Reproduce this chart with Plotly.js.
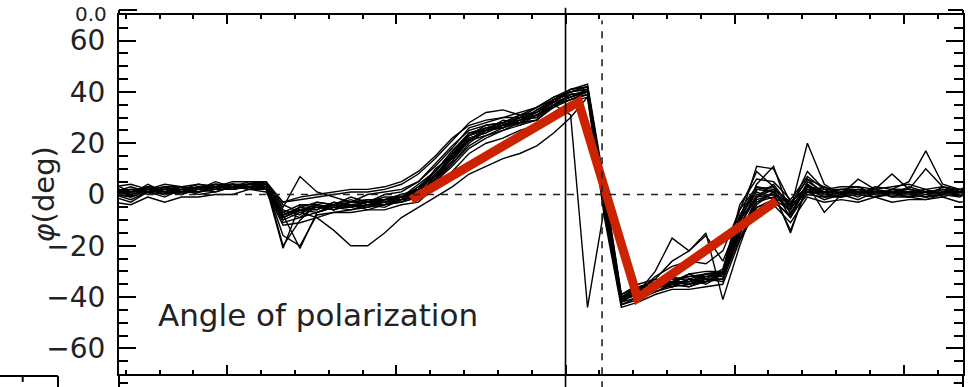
<!DOCTYPE html>
<html>
<head>
<meta charset="utf-8">
<script src="https://cdn.plot.ly/plotly-3.0.1.min.js"></script>
<style>html,body{margin:0;padding:0;background:#fff;}#chart{width:973px;height:387px;}</style>
</head>
<body>
<div id="chart"></div>
<script>
// Pulse longitude grid (arbitrary units; solid line at 0)
const phase = [-13.35,-12.85,-12.35,-11.85,-11.35,-10.85,-10.35,-9.85,-9.35,-8.85,
  -8.35,-7.85,-7.35,-6.85,-6.35,-5.85,-5.35,-4.85,-4.35,-3.85,
  -3.35,-2.85,-2.35,-1.85,-1.35,-0.85,-0.35,0.15,0.65,1.15,
  1.65,2.15,2.65,3.15,3.65,4.15,4.65,5.15,5.65,6.15,
  6.65,7.15,7.65,8.15,8.65,9.15,9.65,10.15,10.65,11.15,11.65,12.15];

// Angle of polarization curves (deg)
const pa01 = [3,0,4,1,3,2,5,3,4,5,-6,-8,-3,-4,-1,-3,0,1,5,12,19,25,27,28,31,34,38,40,42,-2,-41,-36,-34,-35,-31,-33,-29,-6,3,1,-4,6,0,2,3,0,2,1,-1,3,1,2];
const pa02 = [-1,-3,1,-1,2,0,1,3,2,2,-11,-9,-7,-5,-6,-4,-5,-2,-1,5,12,19,23,25,28,29,35,37,39,-7,-43,-41,-38,-35,-36,-33,-34,-13,-5,-2,-9,1,-2,0,-2,1,-1,-1,-2,0,1,-1];
const pa03 = [1,2,0,3,1,3,2,4,3,2,-8,-5,-6,-3,-5,-2,-3,-2,3,7,16,21,26,26,30,30,35,31,-44,-5,-41,-39,-35,-36,-33,-34,-30,-9,1,-2,-6,4,-1,1,0,-1,2,0,1,0,2,1];
const pa04 = [2,1,3,1,3,2,4,3,5,4,-4,-7,-9,-14,-20,-20,-15,-9,-5,-1,3,8,11,14,16,19,24,30,38,-3,-40,-36,-36,-32,-34,-31,-30,-10,-1,0,-4,1,1,0,1,2,-1,1,2,0,1,-1];
const pa05 = [-1,1,3,0,2,1,3,2,4,3,-21,-4,-5,-4,-2,-4,-2,0,1,10,15,24,25,29,28,33,36,38,41,-1,-42,-38,-37,-34,-35,-33,-33,-14,-4,1,-7,2,-1,-1,1,0,0,-1,1,2,0,1];
const pa06 = [2,-1,2,0,3,1,2,4,2,3,-8,-21,-7,-4,-5,-3,-4,-1,0,6,13,22,24,28,27,31,34,39,40,1,-41,-39,-36,-36,-33,-35,-31,-16,-1,2,-9,4,0,0,2,1,1,-1,0,2,1,0];
const pa07 = [0,-2,1,2,0,3,2,2,4,4,-5,7,1,-1,-3,0,1,2,5,11,18,26,28,30,30,34,37,41,42,0,-40,-37,-37,-34,-34,-32,-32,-13,2,3,-4,6,3,0,1,-1,2,2,1,0,-1,2];
const pa08 = [3,4,2,4,3,4,3,5,5,5,-3,-2,-1,0,1,1,2,4,8,14,21,28,32,33,31,32,36,41,43,4,-39,-35,-33,-34,-31,-30,-30,-4,6,5,-2,7,2,3,3,2,3,4,2,3,2,4];
const pa09 = [0,2,1,3,1,3,4,2,3,4,-9,-6,-6,-3,-4,-5,-2,-2,2,7,14,21,25,26,29,32,36,38,41,-3,-42,-38,-30,-17,-22,-16,-26,-10,11,10,-3,3,2,-1,1,0,2,2,1,0,1,0];
const pa10 = [1,-1,2,1,1,3,2,2,3,3,-7,-9,-4,-5,-4,-5,-3,-1,1,6,15,22,24,27,29,30,37,39,40,-4,-41,-37,-33,-26,-22,-15,-41,-20,-2,0,-14,3,-1,1,-1,2,0,1,-1,0,2,0];
const pa11 = [0,1,3,1,2,3,3,4,3,2,-10,-7,-5,-6,-4,-6,-4,-3,-1,6,12,20,25,27,30,31,35,37,40,-5,-42,-40,-36,-35,-36,-34,-31,-14,-3,1,-6,20,4,0,1,-1,1,0,2,-1,1,1];
const pa12 = [2,0,1,2,3,2,3,3,4,5,-8,-6,-4,-5,-3,-3,-1,-1,3,9,17,23,27,28,31,32,36,40,41,-2,-40,-39,-35,-36,-33,-34,-30,-12,-1,4,-5,9,2,2,0,3,2,5,17,4,2,1];
const pa13 = [1,2,2,0,2,4,3,3,2,4,-7,-4,-4,-6,-3,-2,-2,0,2,8,14,23,25,26,29,31,35,39,40,-1,-40,-38,-36,-34,-35,-32,-31,-9,2,1,-15,4,-7,0,6,2,8,2,10,3,1,2];
const pa14 = [-3,-4,-1,-3,-1,-1,0,0,2,1,-12,-11,-9,-7,-7,-6,-6,-4,-3,3,9,16,20,22,25,27,32,36,38,-9,-44,-42,-39,-37,-37,-36,-35,-18,-6,-4,-11,-1,-3,-2,-3,-1,-3,-2,-2,-1,-3,-2];
const pa15 = [4,1,2,3,3,2,4,4,3,4,-20,-10,-4,-6,-4,-3,-3,-1,2,9,16,23,26,27,29,33,37,40,42,2,-39,-36,-35,-33,-33,-31,-31,-11,4,11,-8,5,1,2,2,1,0,3,1,2,1,3];
const pa16 = [1,3,1,2,2,1,3,3,3,2,-9,-6,-5,-4,-5,-3,-2,-3,1,8,15,21,26,27,28,31,36,38,40,-2,-42,-38,-32,-28,-26,-27,-22,-6,9,3,-4,1,3,0,2,0,1,1,0,1,2,0];
const pa17 = [0,0,2,1,0,2,1,3,3,3,-9,-6,-7,-5,-5,-4,-4,-2,0,7,13,21,23,26,28,29,35,38,40,-3,-41,-39,-38,-35,-34,-33,-33,-15,-3,-1,-5,1,0,-1,0,1,0,0,-1,1,0,-1];
const pa18 = [2,1,3,2,1,3,3,3,4,3,-8,-5,-3,-4,-3,-2,-2,-1,4,9,17,24,26,28,30,32,37,40,41,-1,-40,-36,-36,-34,-32,-32,-30,-12,0,2,-3,2,1,1,2,1,1,1,1,1,1,1];
const pa19 = [1,2,2,2,3,2,3,4,4,4,-3,-1,0,1,2,2,3,5,9,15,22,27,29,30,32,34,38,41,42,2,-40,-37,-35,-33,-32,-31,-30,-8,3,2,-3,3,1,2,1,2,1,2,1,2,1,2];
const pa20 = [0,-1,1,0,1,1,2,2,3,3,-16,-20,-8,-7,-6,-5,-4,-3,-1,5,11,18,22,25,27,29,34,37,39,-6,-43,-40,-38,-36,-35,-34,-33,-17,-5,-3,-8,0,-1,0,0,-1,0,0,-1,0,0,-1];

// Red model fit
const fitX = [-4.56, 0.385, 2.13, 6.24];
const fitY = [-2.1, 36.1, -40.4, -2.5];

// Reference lines
const centerX = 0;
const dashX = 1.08;

const curves = [pa01,pa02,pa03,pa04,pa05,pa06,pa07,pa08,pa09,pa10,
                pa11,pa12,pa13,pa14,pa15,pa16,pa17,pa18,pa19,pa20];

const traces = curves.map(c => ({
  x: phase, y: c, type: 'scatter', mode: 'lines',
  line: {color: '#000', width: 1.4}, hoverinfo: 'skip', showlegend: false
}));
traces.push({
  x: fitX, y: fitY, type: 'scatter', mode: 'lines',
  line: {color: '#cc2200', width: 9}, hoverinfo: 'skip', showlegend: false
});

const axFont = {family: 'DejaVu Sans, sans-serif', size: 28, color: '#222'};
const blk = {color: '#000', width: 2};

const layout = {
  width: 973, height: 387,
  margin: {l: 119, r: 10, t: 15, b: 13, pad: 0},
  paper_bgcolor: '#fff', plot_bgcolor: '#fff',
  showlegend: false,
  xaxis: {
    range: [-13.2, 11.75], tick0: 0, dtick: 5,
    ticks: 'inside', ticklen: 9, tickwidth: 2, tickcolor: '#000',
    minor: {dtick: 1, ticks: 'inside', ticklen: 4, tickwidth: 2, tickcolor: '#000'},
    showticklabels: false, showgrid: false, zeroline: false,
    showline: true, linecolor: '#000', linewidth: 2, mirror: 'allticks'
  },
  yaxis: {
    range: [-70, 70], tick0: 0, dtick: 20,
    ticks: 'inside', ticklen: 17, tickwidth: 2, tickcolor: '#000',
    minor: {dtick: 5, ticks: 'inside', ticklen: 9, tickwidth: 2, tickcolor: '#000'},
    tickfont: axFont, ticklabelstandoff: 6,
    showgrid: false, zeroline: false,
    showline: true, linecolor: '#000', linewidth: 2, mirror: 'allticks'
  },
  shapes: [
    {type: 'line', xref: 'x', yref: 'paper', x0: centerX, x1: centerX, y0: -0.04, y1: 1.02, line: {color: '#000', width: 1.6}},
    {type: 'line', xref: 'x', yref: 'paper', x0: dashX, x1: dashX, y0: -0.04, y1: 0.985, line: {color: '#222', width: 1.6, dash: '7px,7px'}},
    {type: 'line', xref: 'paper', yref: 'y', x0: 0, x1: 1, y0: 0, y1: 0, line: {color: '#222', width: 1.6, dash: '7px,7px'}},
    // fragments of neighbouring panels
    {type: 'line', xref: 'paper', yref: 'paper', x0: 0, x1: 0.0213, y0: 1.0139, y1: 1.0139, line: blk},
    {type: 'line', xref: 'paper', yref: 'paper', x0: 0, x1: 0, y0: 1.0, y1: 1.0139, line: blk},
    {type: 'line', xref: 'paper', yref: 'paper', x0: 0.9822, x1: 1, y0: 1.0139, y1: 1.0139, line: blk},
    {type: 'line', xref: 'paper', yref: 'paper', x0: 1, x1: 1, y0: 1.0, y1: 1.0139, line: blk},
    {type: 'line', xref: 'paper', yref: 'paper', x0: 0, x1: 0, y0: -0.04, y1: 0, line: blk},
    {type: 'line', xref: 'paper', yref: 'paper', x0: 1, x1: 1, y0: -0.04, y1: 0, line: blk},
    {type: 'line', xref: 'paper', yref: 'paper', x0: 0, x1: 0.0107, y0: -0.025, y1: -0.025, line: blk},
    {type: 'line', xref: 'paper', yref: 'paper', x0: 0.989, x1: 1, y0: -0.025, y1: -0.025, line: blk},
    {type: 'line', xref: 'paper', yref: 'paper', x0: -0.142, x1: -0.0723, y0: -0.0056, y1: -0.0056, line: blk},
    {type: 'line', xref: 'paper', yref: 'paper', x0: -0.0723, x1: -0.0723, y0: -0.0056, y1: -0.045, line: blk},
    {type: 'line', xref: 'paper', yref: 'paper', x0: -0.1141, x1: -0.1141, y0: -0.0056, y1: -0.022, line: blk}
  ],
  annotations: [
    {text: 'Angle of polarization', xref: 'paper', yref: 'paper', x: 0.044, y: 0.165,
     xanchor: 'left', yanchor: 'middle', showarrow: false,
     font: {family: 'DejaVu Sans, sans-serif', size: 31, color: '#222'}},
    {text: '<i>φ</i>(deg)', xref: 'paper', yref: 'paper', x: -0.09, y: 0.5,
     xanchor: 'center', yanchor: 'middle', textangle: -90, showarrow: false,
     font: {family: 'DejaVu Sans, sans-serif', size: 29, color: '#222'}},
    {text: '0.0', xref: 'paper', yref: 'paper', x: -0.0118, y: 1.0418,
     xanchor: 'right', yanchor: 'top', showarrow: false,
     font: {family: 'DejaVu Sans, sans-serif', size: 20, color: '#222'}}
  ]
};

Plotly.newPlot('chart', traces, layout, {displayModeBar: false, staticPlot: true});
</script>
</body>
</html>
